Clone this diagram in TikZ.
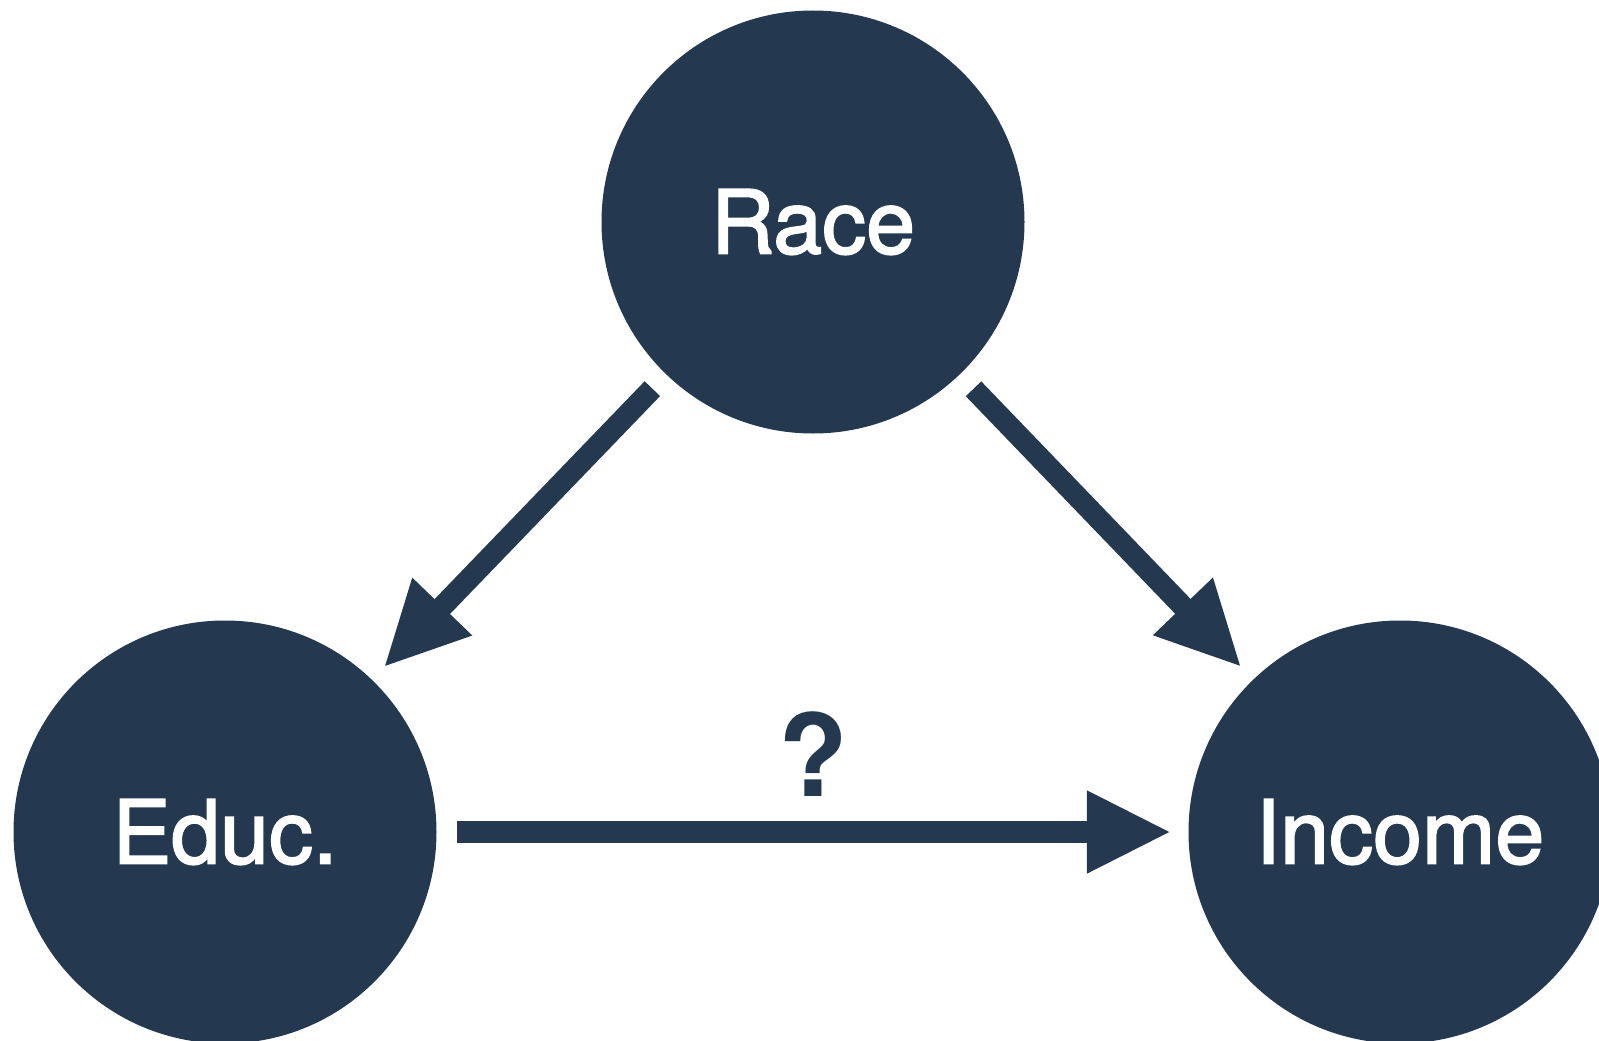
\documentclass[tikz,border=0pt]{standalone}
\usepackage{fontspec}
\setmainfont{TeX Gyre Heros}
\newfontfamily\labelfont[FakeBold=2]{TeX Gyre Heros}
\usetikzlibrary{arrows.meta}
\definecolor{navy}{HTML}{243850}
\tikzset{
  var/.style={circle, fill=navy, draw=none, outer sep=0pt, inner sep=0pt,
    minimum size=423pt, text=white, font=\labelfont\fontsize{88}{92}\selectfont},
  causal/.style={draw=navy, line width=21.4pt,
    -{Triangle[length=84.6pt,width=76.5pt]},
    shorten <=20pt, shorten >=17pt}
}
\begin{document}
\begin{tikzpicture}[x=1pt,y=-1pt]
\useasboundingbox (0,0) rectangle (1599,1041);
\clip (0,0) rectangle (1599,1041);
\node[var] (race) at (813,222) {Race};
\node[var] (educ) at (225,832) {Educ.};
\node[var] (income) at (1400,832) {Income};
\draw[causal] (race) -- (educ);
\draw[causal] (race) -- (income);
\draw[causal] (educ) -- (income);
\node[anchor=base, text=navy, inner sep=0pt, font=\fontsize{114}{118}\selectfont\bfseries] (q) at (813,796.5) {?};
\end{tikzpicture}
\end{document}
